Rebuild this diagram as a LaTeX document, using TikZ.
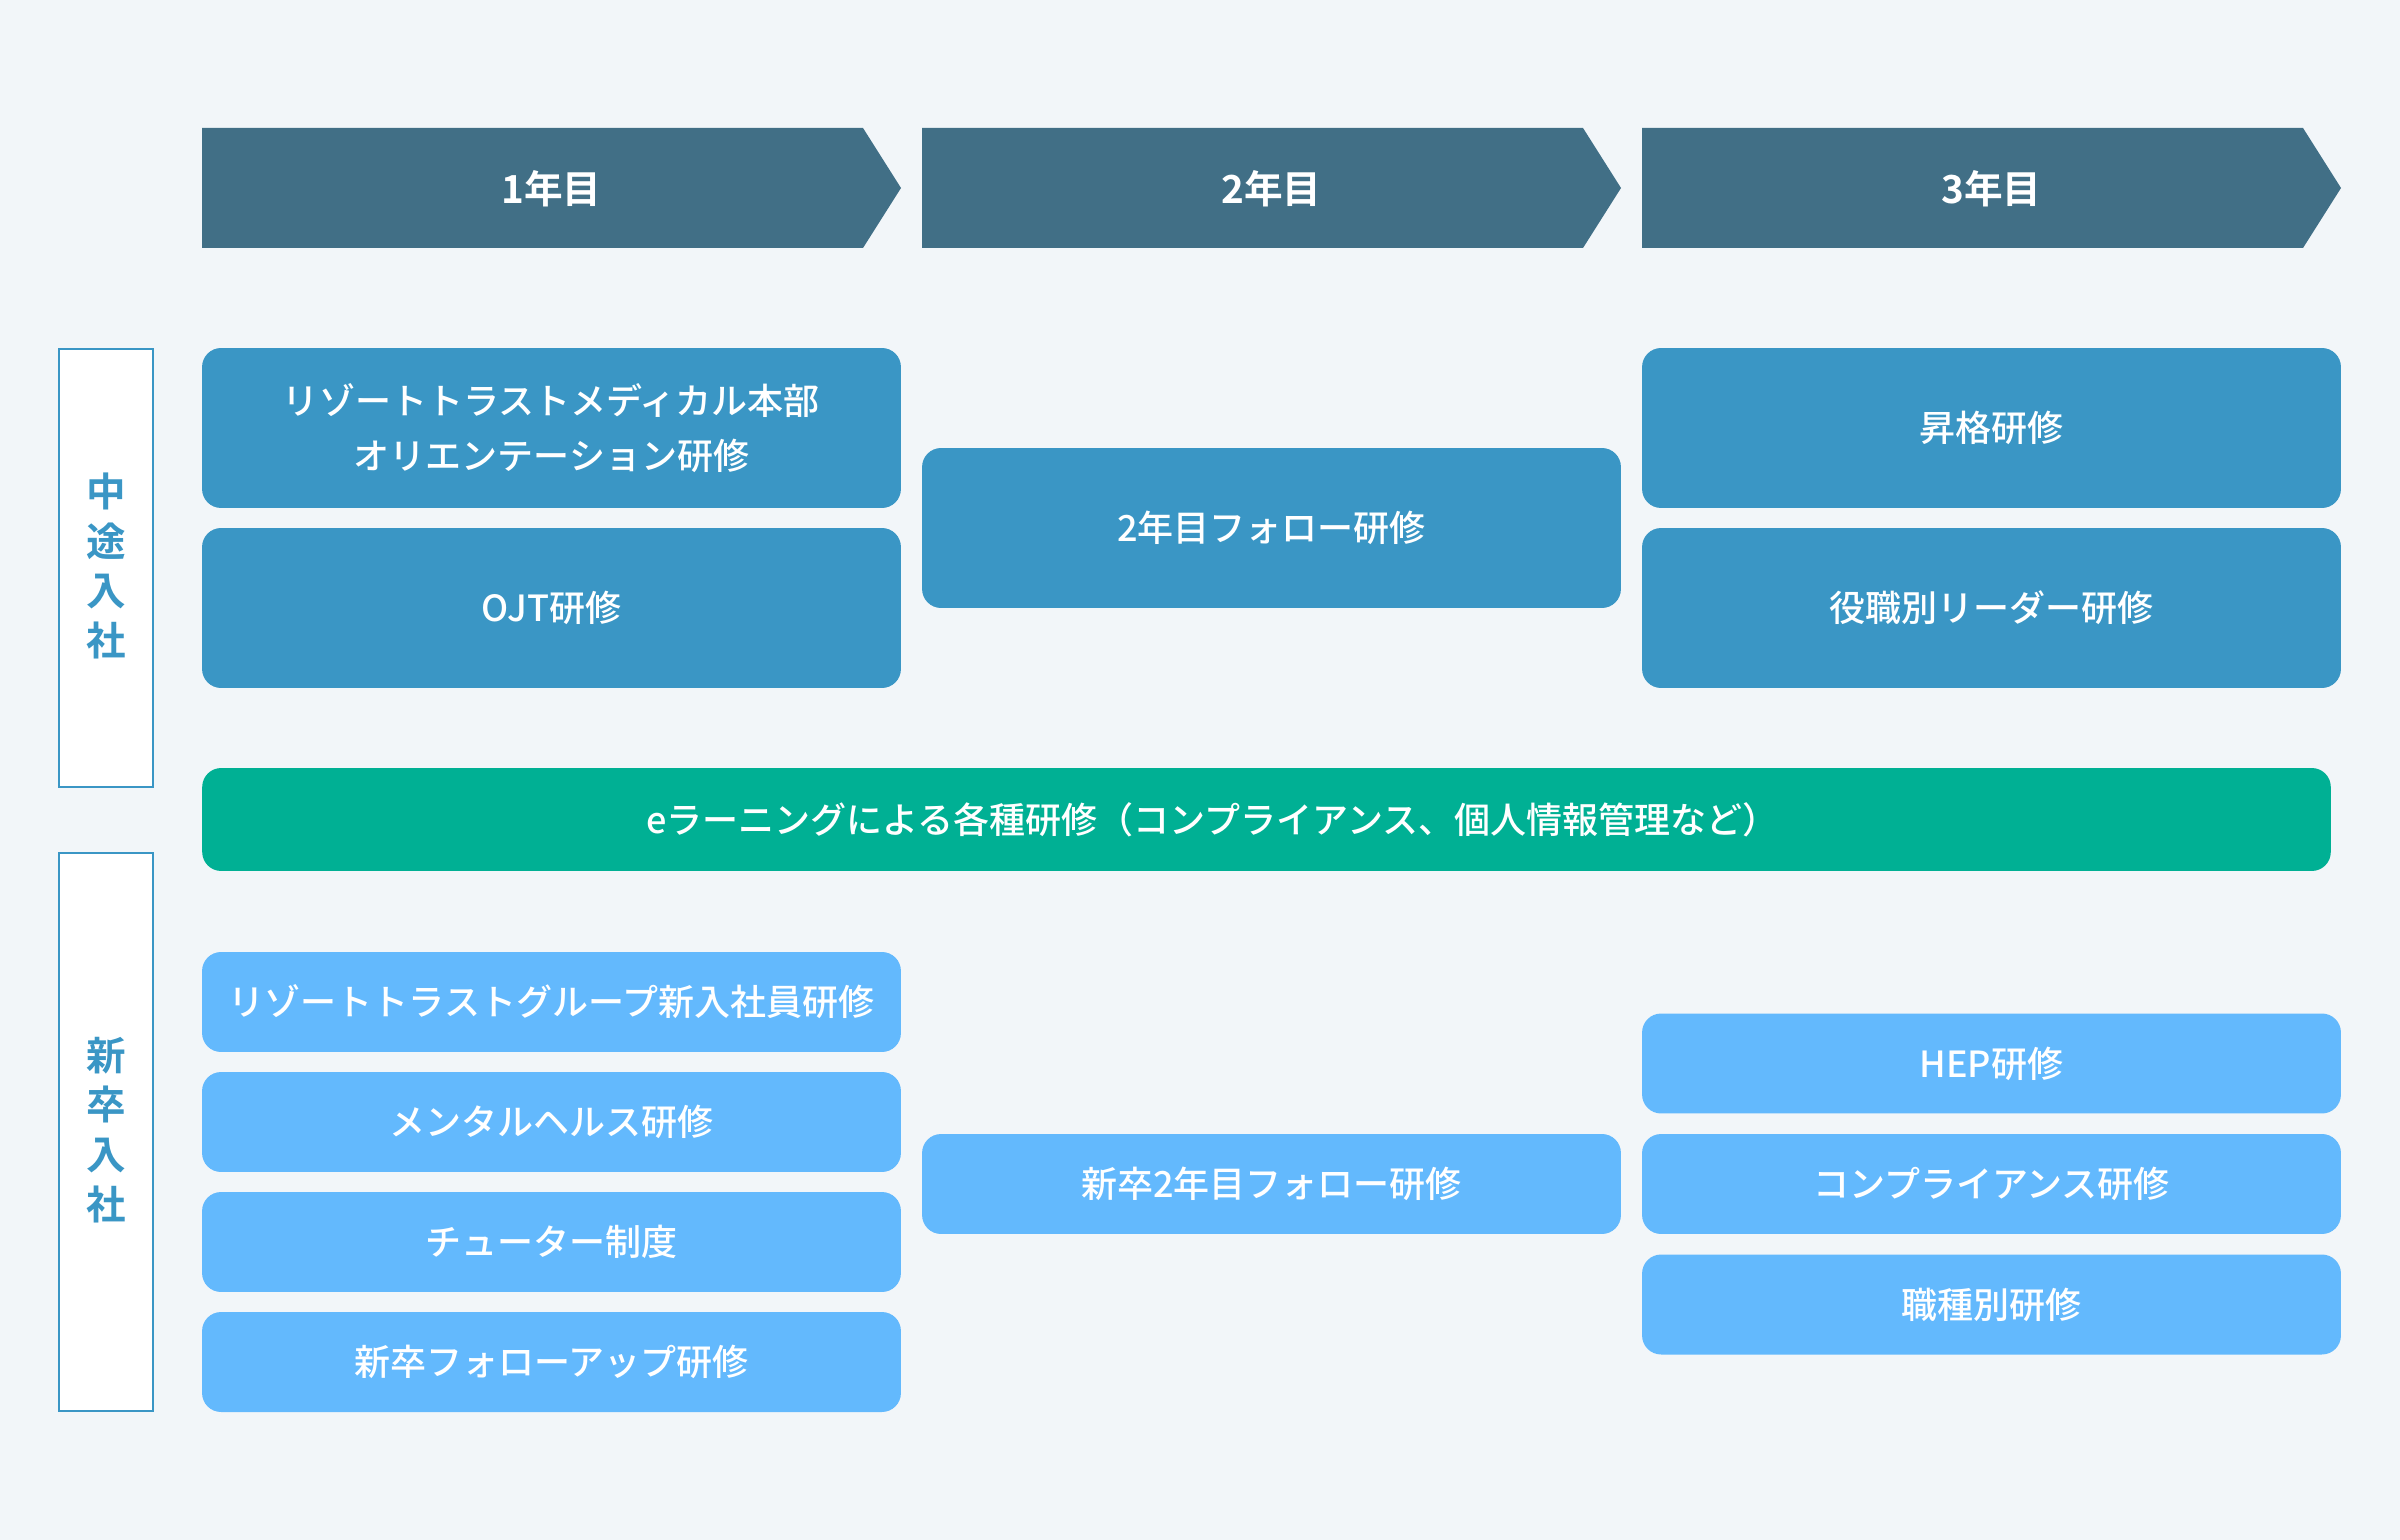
\documentclass[tikz,border=0pt]{standalone}
\usepackage{fontspec}
\setmainfont{Noto Sans CJK JP}[UprightFont=* Medium, BoldFont=* Bold]
\definecolor{bgc}{HTML}{F2F6F9}
\definecolor{chev}{HTML}{416F86}
\definecolor{upc}{HTML}{3A96C5}
\definecolor{grc}{HTML}{00B094}
\definecolor{loc}{HTML}{63B9FD}
\tikzset{
  card/.style={rounded corners=0.38cm, inner sep=0pt, minimum width=13.98cm, text=white, align=center,
    font=\fontsize{20.5pt}{31pt}\selectfont},
  upcard/.style={card, fill=upc, minimum height=3.2cm},
  locard/.style={card, fill=loc, minimum height=2cm},
  chevshape/.style={fill=chev},
  yeartext/.style={text=white, font=\fontsize{22pt}{26pt}\selectfont\bfseries},
  sidebox/.style={draw=upc, line width=1pt, fill=white, minimum width=1.88cm, inner sep=0pt},
  sidetext/.style={text=upc, align=center, font=\fontsize{22.5pt}{28.3pt}\selectfont\bfseries}
}
\begin{document}
\begin{tikzpicture}[x=0.02cm,y=-0.02cm]
\fill[bgc] (0,0) rectangle (2400,1540);
\useasboundingbox (0,0) rectangle (2400,1540);
% chevrons
\fill[chevshape] (202,128) -- (863,128) -- (901,188) -- (863,248) -- (202,248) -- cycle;
\fill[chevshape] (922,128) -- (1583,128) -- (1621,188) -- (1583,248) -- (922,248) -- cycle;
\fill[chevshape] (1642,128) -- (2303,128) -- (2341,188) -- (2303,248) -- (1642,248) -- cycle;
\node[yeartext] (y1) at (551.5,189) {1年目};
\node[yeartext] (y2) at (1271.5,189) {2年目};
\node[yeartext] (y3) at (1991.5,189) {3年目};
% side labels
\node[sidebox, minimum height=8.76cm] (s1) at (106,568) {};
\node[sidetext] (s1t) at (106,566) {中\\途\\入\\社};
\node[sidebox, minimum height=11.16cm] (s2) at (106,1132) {};
\node[sidetext] (s2t) at (106,1130) {新\\卒\\入\\社};
% upper cards
\node[upcard] (a1) at (551.5,428) {リゾートトラストメディカル本部\\オリエンテーション研修};
\node[upcard] (a2) at (551.5,608) {OJT研修};
\node[upcard] (b1) at (1271.5,528) {2年目フォロー研修};
\node[upcard] (c1) at (1991.5,428) {昇格研修};
\node[upcard] (c2) at (1991.5,608) {役職別リーダー研修};
% green bar
\node[rounded corners=0.38cm, fill=grc, minimum width=42.58cm, minimum height=2.06cm, inner sep=0pt] (g) at (1266.5,819.5) {};
\node[anchor=west, text=white, inner sep=0pt, font=\fontsize{20.5pt}{24pt}\selectfont] (gt) at (646,820) {eラーニングによる各種研修（コンプライアンス、個人情報管理など）};
% lower cards
\node[locard] (d1) at (551.5,1002) {リゾートトラストグループ新入社員研修};
\node[locard] (d2) at (551.5,1122) {メンタルヘルス研修};
\node[locard] (d3) at (551.5,1242) {チューター制度};
\node[locard] (d4) at (551.5,1362) {新卒フォローアップ研修};
\node[locard] (e1) at (1271.5,1184) {新卒2年目フォロー研修};
\node[locard] (f1) at (1991.5,1063.5) {HEP研修};
\node[locard] (f2) at (1991.5,1184) {コンプライアンス研修};
\node[locard] (f3) at (1991.5,1304.5) {職種別研修};
\end{tikzpicture}
\end{document}
